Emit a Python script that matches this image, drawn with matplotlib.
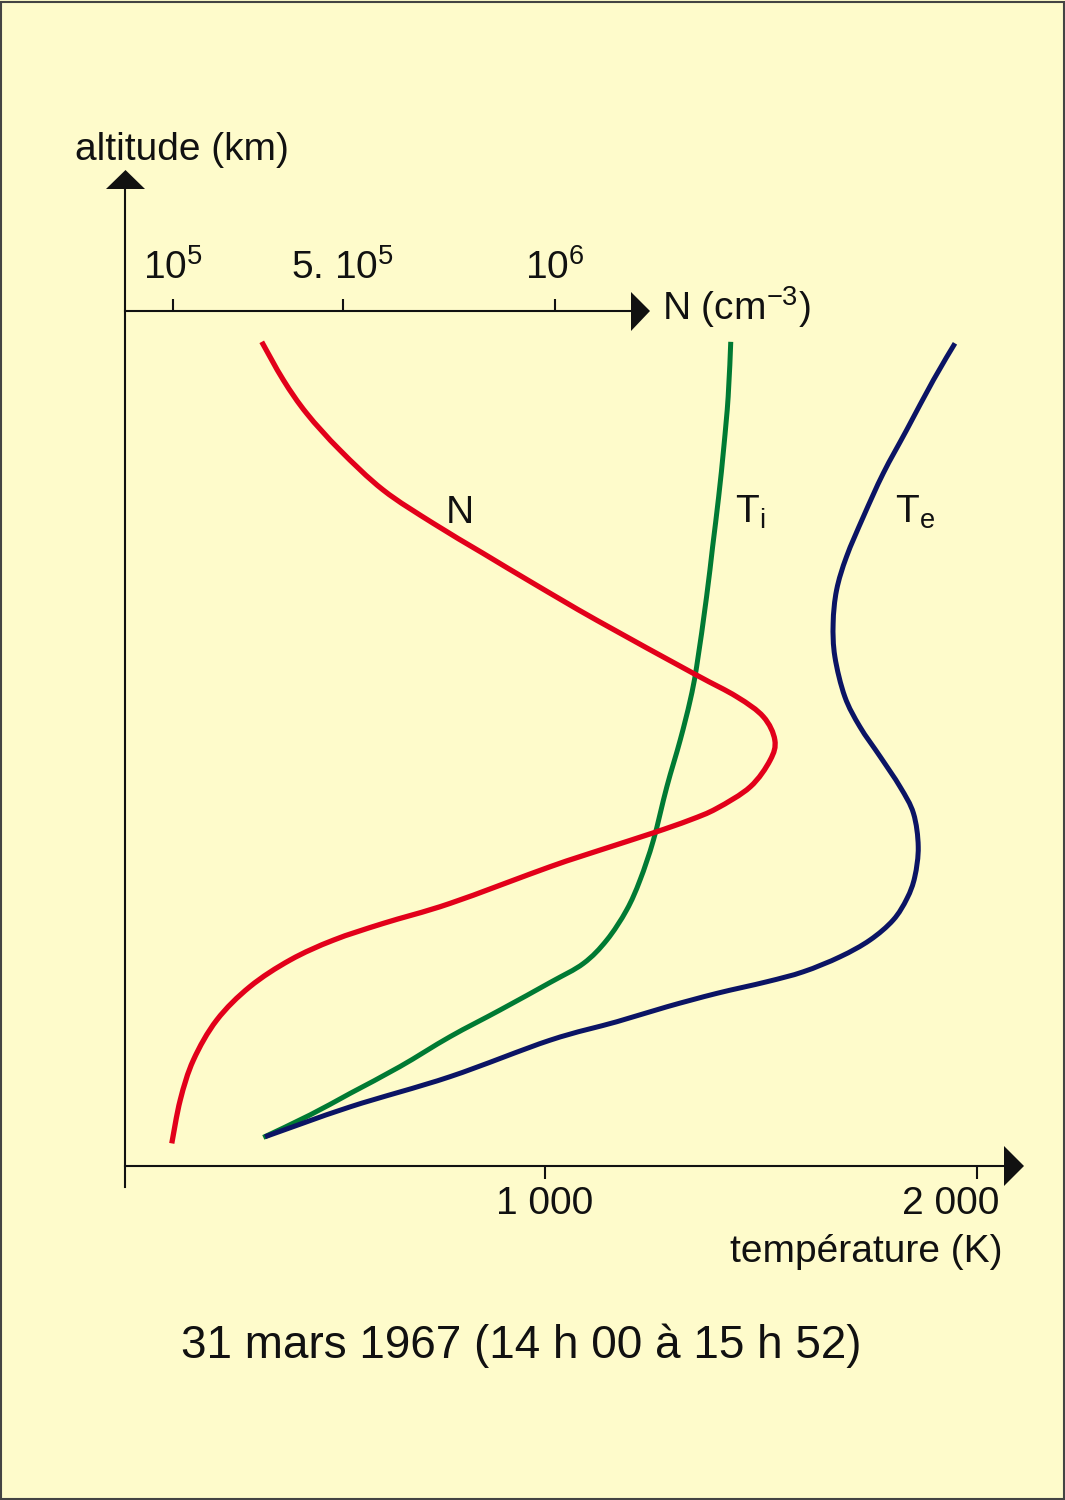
import matplotlib
matplotlib.use("Agg")
import matplotlib.pyplot as plt
from matplotlib.patches import Polygon, Rectangle, PathPatch
from matplotlib.path import Path
from matplotlib.transforms import ScaledTranslation

# ---------------------------------------------------------------
# Data
# ---------------------------------------------------------------
# electron density N (cm-3) vs altitude (km)
N_ALT = [485.6, 467.7, 452.1, 435.0, 416.3, 400.7, 386.6, 372.6, 355.4,
         330.5, 319.6, 310.2, 299.3, 289.9, 277.4, 267.3, 261.9, 255.9, 247.8,
         240.0, 222.9, 213.5, 205.7, 196.4, 183.9, 168.3, 149.6, 130.9, 110.6]
N_VAL = [3.09e5, 3.60e5, 4.15e5, 4.93e5, 5.95e5, 7.13e5, 8.31e5, 9.49e5, 1.098e6,
         1.326e6, 1.428e6, 1.491e6, 1.518e6, 1.507e6, 1.460e6, 1.381e6, 1.318e6, 1.232e6, 1.106e6,
         9.88e5, 7.53e5, 5.95e5, 4.78e5, 3.76e5, 2.81e5, 2.03e5, 1.48e5, 1.17e5, 0.97e5]

# ion temperature Ti (K)
TI_ALT = [485.6, 459.9, 436.5, 413.1, 389.7, 366.3, 333.6, 317.8, 299.3, 277.4, 252.5,
          233.8, 219.8, 205.7, 194.8, 185.9, 173.0, 160.5, 146.5, 134.0, 123.9, 113.4]
TI_VAL = [1430, 1424, 1414, 1402, 1388, 1374, 1351, 1336, 1313, 1282, 1251,
          1220, 1189, 1143, 1089, 1012, 896, 780, 664, 549, 456, 348]

# electron temperature Te (K)
TE_ALT = [484.9, 467.7, 444.3, 424.1, 403.8, 385.1, 369.5, 353.9, 338.3, 319.6,
          305.5, 291.5, 277.4, 265.0, 249.4, 235.3, 225.2, 215.1, 205.7, 197.9,
          190.9, 186.2, 180.8, 174.5, 167.5, 158.9, 141.8, 127.7, 113.7]
TE_VAL = [1949, 1899, 1837, 1783, 1737, 1698, 1675, 1667, 1671, 1694,
          1729, 1776, 1822, 1853, 1864, 1856, 1838, 1806, 1752, 1683,
          1598, 1513, 1398, 1282, 1166, 1012, 780, 549, 352]

ALT_TICKS = [100, 200, 300, 400, 500]
T_TICKS = [1000, 2000]
T_LABELS = ["1 000", "2 000"]
N_TICKS = [1e5, 5e5, 1e6]
N_LABELS = [r"$\mathregular{10^{5}}$", r"5. $\mathregular{10^{5}}$", r"$\mathregular{10^{6}}$"]

TITLE = "31 mars 1967 (14 h 00 à 15 h 52)"

# ---------------------------------------------------------------
# Style
# ---------------------------------------------------------------
BG = "#FEFBCB"
RED = "#E2001A"
GREEN = "#007A33"
NAVY = "#0B1464"
INK = "#111111"
FS = 28

plt.rcParams.update({
    "font.family": ["Liberation Sans", "DejaVu Sans"],
    "font.size": FS,
    "mathtext.fontset": "custom",
    "mathtext.rm": "Liberation Sans",
    "mathtext.it": "Liberation Sans:italic",
    "mathtext.bf": "Liberation Sans:bold",
})

W, H = 1065, 1500
fig = plt.figure(figsize=(W / 100, H / 100), dpi=100, facecolor=BG)


def fx(px):
    return px / W


def fy(py):
    return 1 - py / H


def smooth_curve(axis, xs, ys, color, lw):
    """Draw a smooth line through the points (Catmull-Rom as cubic Bezier)."""
    pts = list(zip(xs, ys))
    verts = [pts[0]]
    codes = [Path.MOVETO]
    for i in range(len(pts) - 1):
        p0 = pts[max(i - 1, 0)]
        p1 = pts[i]
        p2 = pts[i + 1]
        p3 = pts[min(i + 2, len(pts) - 1)]
        c1 = (p1[0] + (p2[0] - p0[0]) / 6, p1[1] + (p2[1] - p0[1]) / 6)
        c2 = (p2[0] - (p3[0] - p1[0]) / 6, p2[1] - (p3[1] - p1[1]) / 6)
        verts += [c1, c2, p2]
        codes += [Path.CURVE4] * 3
    axis.add_patch(PathPatch(Path(verts, codes), facecolor="none", edgecolor=color,
                             lw=lw, capstyle="butt", joinstyle="round"))


# main axes: temperature (x) / altitude (y)
ax = fig.add_axes([fx(125), fy(1187), 879 / W, 998 / H])
ax.set_facecolor("none")
ax.set_xlim(27.8, 2062.5)
ax.set_ylim(90.2, 557.1)

for s in ("top", "right"):
    ax.spines[s].set_visible(False)
ax.spines["bottom"].set_position(("data", 100))
for s in ("left", "bottom"):
    ax.spines[s].set_linewidth(1.5)
    ax.spines[s].set_color(INK)

ax.set_yticks(ALT_TICKS)
ax.set_xticks(T_TICKS)
ax.set_xticklabels(T_LABELS)
ax.tick_params(axis="both", direction="out", length=9.5, width=1.5,
               colors=INK, labelsize=FS)
ax.tick_params(axis="y", pad=8)
ax.tick_params(axis="x", pad=5)
# the "2 000" label sits to the left of its tick
lbl = ax.get_xticklabels()[1]
lbl.set_transform(lbl.get_transform() + ScaledTranslation(-0.26, 0, fig.dpi_scale_trans))

# secondary axes for N, its axis drawn at the 500 km level
ax2 = ax.twiny()
ax2.set_xlim(-1.32e4, 2.058e6)
for s in ("bottom", "left", "right"):
    ax2.spines[s].set_visible(False)
ax2.spines["top"].set_position(("data", 500))
ax2.spines["top"].set_bounds(-1.32e4, 1.179e6)
ax2.spines["top"].set_linewidth(1.5)
ax2.spines["top"].set_color(INK)
ax2.set_xticks(N_TICKS)
ax2.set_xticklabels(N_LABELS)
ax2.tick_params(axis="x", direction="out", length=8.5, width=1.5, pad=9,
                colors=INK, labelsize=FS)
ax2.set_yticks([])

# curves
smooth_curve(ax, TI_VAL, TI_ALT, GREEN, 3.6)
smooth_curve(ax, TE_VAL, TE_ALT, NAVY, 3.6)
smooth_curve(ax2, N_VAL, N_ALT, RED, 3.8)

# curve labels
ax2.text(7.76e5, 400.8, "N", ha="center", va="baseline", fontsize=FS, color=INK)
ax.text(1440, 400.8, r"T$\mathregular{_i}$", ha="left", va="baseline", fontsize=FS, color=INK)
ax.text(1810, 400.8, r"T$\mathregular{_e}$", ha="left", va="baseline", fontsize=FS, color=INK)


# arrow heads (figure pixels)
def tri(points):
    fig.add_artist(Polygon([(fx(x), fy(y)) for x, y in points], closed=True,
                           transform=fig.transFigure, facecolor=INK,
                           edgecolor="none", clip_on=False))


tri([(106, 189), (145, 189), (125.5, 170)])     # altitude
tri([(1004, 1146), (1004, 1186), (1024, 1166)])  # temperature
tri([(631, 292), (631, 331), (650, 311)])        # N

# axis titles
fig.text(fx(75), fy(160), "altitude (km)", ha="left", va="baseline",
         fontsize=FS, color=INK)
fig.text(fx(662), fy(320), r"N (cm$\mathregular{^{-3}}$)", ha="left", va="baseline",
         fontsize=FS, color=INK)
fig.text(fx(1003), fy(1262), "température (K)", ha="right", va="baseline",
         fontsize=FS, color=INK)
fig.text(fx(521), fy(1358), TITLE, ha="center", va="baseline",
         fontsize=33, color=INK)

# thin frame around the picture
fig.add_artist(Rectangle((0.001, 0.001), 0.998, 0.998, transform=fig.transFigure,
                         fill=False, edgecolor="#444444", linewidth=1.5))

fig.savefig("out.png", dpi=100, facecolor=BG)
